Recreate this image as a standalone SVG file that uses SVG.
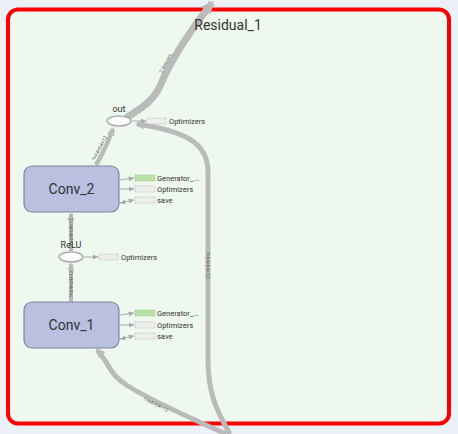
<svg xmlns="http://www.w3.org/2000/svg" width="458" height="434" viewBox="0 0 458 434">
<style>
.edge{fill:none;stroke:#bababa;stroke-linecap:butt}
.small{fill:none;stroke:#aaa;stroke-width:1}
.op{fill:#fff;stroke:#aaa;stroke-width:1.5}
.box{fill:#b9c0e0;stroke:#7f86a4;stroke-width:1.2}
.aux{fill:#eee;stroke:#bbb;stroke-width:0.8;stroke-dasharray:1.5 1}
.gen{fill:#b7e3a8;stroke:#9cc98e;stroke-width:0.8;stroke-dasharray:1.5 1}
.lbl{font-family:Roboto,"Liberation Sans",sans-serif;fill:#333}
.el{font-family:Roboto,"Liberation Sans",sans-serif;font-size:5px;fill:#666}
.aux-t{font-family:Roboto,"Liberation Sans",sans-serif;font-size:7.5px;fill:#333}
</style>
<defs>
<marker id="ah" viewBox="0 0 10 10" refX="8" refY="5" markerWidth="1.8" markerHeight="1.8" orient="auto"><path d="M0,0 L10,5 L0,10 Z" fill="#bababa"/></marker>
<marker id="as" viewBox="0 0 10 10" refX="9" refY="5" markerWidth="6" markerHeight="6" orient="auto"><path d="M0,1 L10,5 L0,9 Z" fill="#aaa"/></marker>
<marker id="asr" viewBox="0 0 10 10" refX="1" refY="5" markerWidth="6" markerHeight="6" orient="auto"><path d="M10,1 L0,5 L10,9 Z" fill="#aaa"/></marker>
</defs>
<rect x="0" y="0" width="458" height="434" fill="#eef0f8"/>
<g id="Residual_1">
<rect x="8" y="9.5" width="441" height="414" rx="10" fill="#eff8ee" stroke="#ff0000" stroke-width="4"/>
<line x1="437" y1="18.5" x2="443" y2="18.5" stroke="#fff" stroke-width="1.5"/>
</g>
<g id="connectors">
<path class="edge" stroke-width="7" d="M126,118 C142,108 154,100 160,86 C170,62 190,30 212,3" marker-end="url(#ah)"/>
<text class="el" transform="translate(167,64) rotate(-62)" text-anchor="middle">2 tensors</text>
<path class="edge" stroke-width="5" d="M230,434 C216,410 208,392 208,360 L208,172 C208,142 184,131 137,124" marker-end="url(#ah)"/>
<text class="el" transform="translate(206,265) rotate(90)" text-anchor="middle">?×64×64×12</text>
<path class="edge" stroke-width="4.5" d="M96,165 C104,152 108,142 113,129" marker-end="url(#ah)"/>
<text class="el" transform="translate(101,149) rotate(-62)" text-anchor="middle">?×64×64×12</text>
<path class="edge" stroke-width="4" d="M71,251 L71,214" marker-end="url(#ah)"/>
<text class="el" transform="translate(72.5,232) rotate(-90)" text-anchor="middle">?×64×64×12</text>
<path class="edge" stroke-width="4" d="M71,302 L71,264" marker-end="url(#ah)"/>
<text class="el" transform="translate(72.5,284) rotate(-90)" text-anchor="middle">?×64×64×12</text>
<path class="edge" stroke-width="5" d="M226,434 C190,418 150,400 128,386 C112,376 110,368 106,362 C102,356 99,352 97,350" marker-end="url(#ah)"/>
<text class="el" transform="translate(155,406) rotate(26)" text-anchor="middle">?×64×64×12</text>
</g>
<g id="title">
<text x="228" y="30" text-anchor="middle" class="lbl" font-size="14" fill="#555">Residual_1</text>
</g>
<g id="out">
<ellipse cx="119" cy="121" rx="12" ry="5" class="op"/>
<text x="119" y="112" text-anchor="middle" class="lbl" font-size="9">out</text>
<line x1="132" y1="121" x2="146" y2="121" class="small" marker-end="url(#as)"/>
<rect x="147" y="118" width="19" height="6" class="aux"/>
<text x="169" y="124" class="aux-t">Optimizers</text>
</g>
<g id="Conv_2">
<rect x="24" y="166" width="95" height="46" rx="8" class="box"/>
<text x="71.5" y="194" text-anchor="middle" class="lbl" font-size="14">Conv_2</text>
<line x1="120" y1="180" x2="134" y2="178" class="small" marker-end="url(#as)"/>
<rect x="135" y="175" width="20" height="6" class="gen"/>
<text x="157" y="181" class="aux-t">Generator_...</text>
<line x1="120" y1="189" x2="134" y2="189" class="small" marker-end="url(#as)"/>
<rect x="135" y="186" width="20" height="6" class="aux"/>
<text x="157" y="192" class="aux-t">Optimizers</text>
<line x1="120" y1="203" x2="134" y2="200" class="small" marker-start="url(#asr)" marker-end="url(#as)"/>
<rect x="135" y="197" width="20" height="6" class="aux"/>
<text x="157" y="203" class="aux-t">save</text>
</g>
<g id="ReLU">
<ellipse cx="71" cy="257" rx="12" ry="5" class="op"/>
<text x="71" y="248" text-anchor="middle" class="lbl" font-size="9">ReLU</text>
<line x1="84" y1="257" x2="98" y2="257" class="small" marker-end="url(#as)"/>
<rect x="99" y="254" width="19" height="6" class="aux"/>
<text x="121" y="260" class="aux-t">Optimizers</text>
</g>
<g id="Conv_1">
<rect x="24" y="302" width="95" height="46" rx="8" class="box"/>
<text x="71.5" y="330" text-anchor="middle" class="lbl" font-size="14">Conv_1</text>
<line x1="120" y1="315" x2="134" y2="313" class="small" marker-end="url(#as)"/>
<rect x="135" y="310" width="20" height="6" class="gen"/>
<text x="157" y="316" class="aux-t">Generator_...</text>
<line x1="120" y1="325" x2="134" y2="325" class="small" marker-end="url(#as)"/>
<rect x="135" y="322" width="20" height="6" class="aux"/>
<text x="157" y="328" class="aux-t">Optimizers</text>
<line x1="120" y1="339" x2="134" y2="336" class="small" marker-start="url(#asr)" marker-end="url(#as)"/>
<rect x="135" y="333" width="20" height="6" class="aux"/>
<text x="157" y="339" class="aux-t">save</text>
</g>
</svg>
